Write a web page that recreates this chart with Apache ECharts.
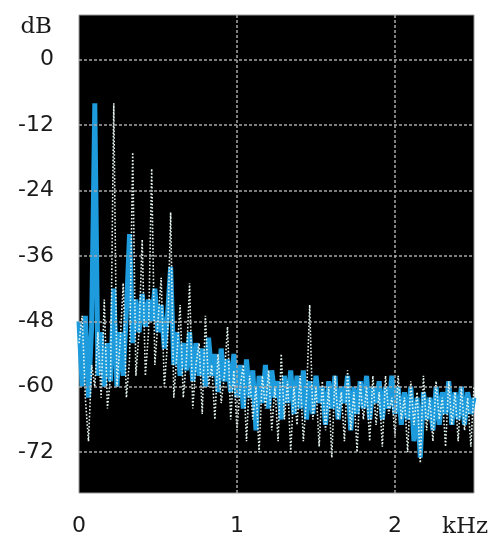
<!DOCTYPE html>
<html>
<head>
<meta charset="utf-8">
<script src="https://cdn.jsdelivr.net/npm/echarts@6/dist/echarts.min.js"></script>
<style>html,body{margin:0;padding:0;background:#fff}#c{width:495px;height:538px}</style>
</head>
<body>
<div id="c"></div>
<script>
// frequency step between samples (kHz)
const STEP_KHZ = 0.02;
const yTicks = [0, -12, -24, -36, -48, -60, -72];
const xTicks = [1, 2];
const xLabels = [0, 1, 2];
const xUnit = 'kHz';
const yUnit = 'dB';
// main (blue) spectrum trace, dB
const blueDb = [
 -48,-60,-47,-62,-49,-8,-58,-50,-60,-52,
 -59,-42,-60,-50,-58,-46,-32,-52,-44,-50,
 -43,-49,-44,-48,-42,-50,-45,-53,-47,-38,
 -56,-50,-58,-52,-57,-50,-59,-52,-58,-53,
 -60,-51,-58,-54,-61,-53,-59,-55,-61,-54,
 -62,-56,-64,-55,-62,-57,-68,-58,-63,-56,
 -64,-57,-62,-59,-66,-58,-63,-57,-65,-58,
 -64,-57,-66,-59,-65,-58,-63,-60,-67,-59,
 -64,-58,-66,-60,-63,-58,-68,-60,-65,-59,
 -64,-58,-66,-60,-63,-59,-66,-60,-64,-58,
 -65,-60,-67,-61,-66,-60,-70,-62,-73,-61,
 -66,-62,-68,-60,-67,-61,-65,-59,-67,-61,
 -66,-60,-67,-61,-65,-62
];
// peak-hold (white dotted) trace, dB
const whiteDb = [
 -52,-47,-62,-70,-56,-60,-50,-62,-44,-64,
 -58,-8,-60,-52,-41,-62,-55,-17,-58,-50,
 -33,-58,-50,-20,-56,-48,-40,-60,-52,-28,
 -62,-54,-45,-62,-55,-41,-64,-56,-52,-65,
 -47,-60,-56,-66,-54,-63,-58,-49,-66,-57,
 -68,-60,-56,-70,-58,-66,-60,-72,-58,-64,
 -57,-68,-60,-70,-54,-66,-59,-72,-60,-67,
 -58,-70,-62,-45,-66,-60,-71,-59,-68,-60,
 -73,-58,-66,-61,-70,-57,-68,-61,-72,-59,
 -66,-60,-70,-58,-67,-61,-71,-58,-65,-62,
 -69,-58,-66,-62,-72,-59,-67,-61,-74,-58,
 -68,-62,-70,-59,-66,-62,-71,-59,-67,-61,
 -70,-60,-68,-62,-71,-60
];

const toPairs = arr => arr.map((v, i) => [+(i * STEP_KHZ).toFixed(3), v]);

const chart = echarts.init(document.getElementById('c'), null, {renderer: 'canvas'});
chart.setOption({
  animation: false,
  backgroundColor: '#fff',
  title: [{
    text: xUnit, left: 437, top: 511,
    textStyle: {fontFamily: 'DejaVu Serif', fontSize: 23, fontWeight: 'normal', color: '#1a1a1a'}
  }],
  grid: {left: 79, right: 21, top: 15, bottom: 45, show: true, backgroundColor: '#000', borderColor: '#9a9a9a', borderWidth: 1},
  xAxis: {
    type: 'value', min: 0, max: 2.5, interval: 1,
    axisLine: {show: false}, axisTick: {show: false},
    splitLine: {show: false},
    axisLabel: {customValues: xLabels, margin: 22, color: '#1a1a1a', fontFamily: 'DejaVu Sans', fontSize: 22}
  },
  yAxis: {
    type: 'value', min: -79.5, max: 8.2,
    axisLine: {show: false}, axisTick: {show: false},
    splitLine: {show: false},
    axisLabel: {customValues: yTicks, margin: 25, color: '#1a1a1a', fontFamily: 'DejaVu Sans', fontSize: 22},
    name: yUnit, nameLocation: 'end', nameGap: -12,
    nameTextStyle: {fontFamily: 'DejaVu Serif', fontSize: 23, color: '#1a1a1a', align: 'right', verticalAlign: 'middle', padding: [0, 27, 0, 0]}
  },
  series: [
    {
      type: 'line', data: [], z: 1, silent: true,
      markLine: {
        silent: true, symbol: 'none', label: {show: false},
        lineStyle: {color: '#a8a8a8', type: [3, 2], width: 1.5},
        data: yTicks.map(v => ({yAxis: v})).concat(xTicks.map(v => ({xAxis: v})))
      }
    },
    {
      type: 'line', data: toPairs(blueDb), z: 2, showSymbol: false, silent: true,
      lineStyle: {color: '#1e9bdc', width: 5, join: 'bevel'}
    },
    {
      type: 'line', data: toPairs(whiteDb), z: 3, showSymbol: false, silent: true,
      lineStyle: {color: '#e6f6f2', width: 1.6, type: [1.6, 1.8]}
    }
  ]
});
</script>
</body>
</html>
